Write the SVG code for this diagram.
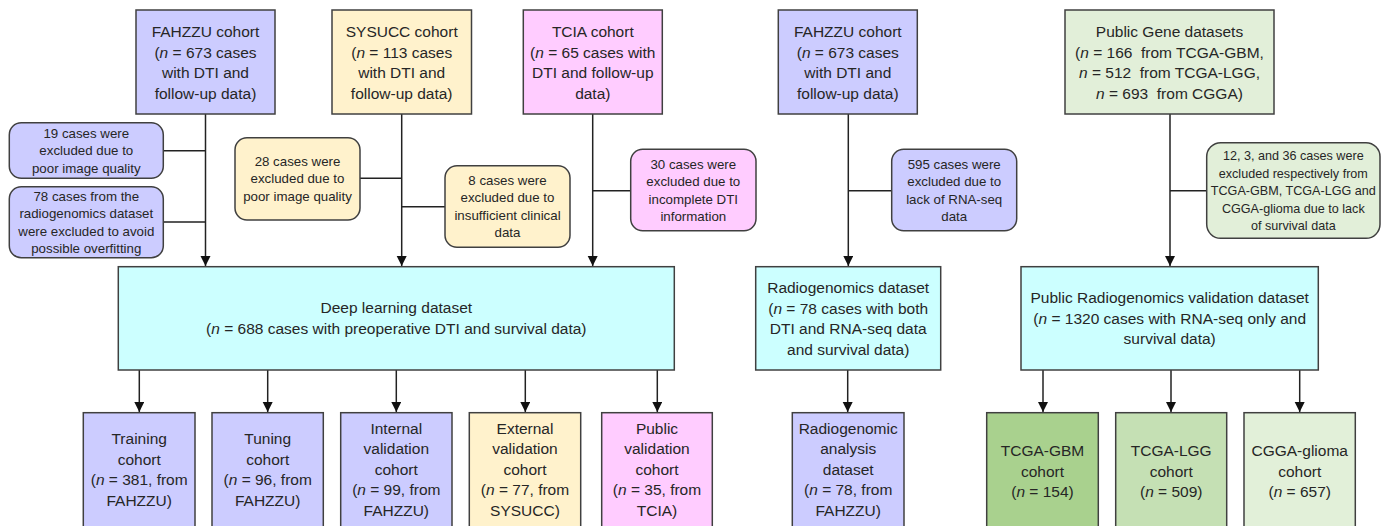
<svg xmlns="http://www.w3.org/2000/svg" width="1383" height="526" viewBox="0 0 1383 526">
<defs>
<style>
.b{stroke:#404040;stroke-width:1.5}
.pu{fill:#CCCCFF}.ye{fill:#FFF2CC}.pk{fill:#FFCCFF}.cy{fill:#CCFFFF}.gr{fill:#E2EFD9}
.g1{fill:#A9D18E}.g2{fill:#C5E0B4}.g3{fill:#E2F0D9}
text{font-family:"Liberation Sans",Arial,sans-serif;fill:#262626;text-anchor:middle}
.t{font-size:15.5px}.s{font-size:13.3px}.s2{font-size:12.6px}
.i{font-style:italic}
.pre{white-space:pre}
.c{stroke:#222;stroke-width:1.5;fill:none}
.a{marker-end:url(#ah)}
</style>
<marker id="ah" markerUnits="userSpaceOnUse" markerWidth="10" markerHeight="12" refX="10" refY="5" orient="auto">
<path d="M0,0 L10,5 L0,10 Z" fill="#111"/>
</marker>
</defs>
<rect width="1383" height="526" fill="#fff"/>

<g id="connectors">
<path class="c a" d="M205.5,114 V266"/>
<path class="c" d="M163.5,150.7 H205.5 M163.5,222 H205.5"/>
<path class="c a" d="M401.7,114 V266"/>
<path class="c" d="M360,178.3 H401.7 M401.7,206.7 H445"/>
<path class="c a" d="M592.7,114 V266"/>
<path class="c" d="M592.7,190.7 H630.7"/>
<path class="c a" d="M848.3,114 V266"/>
<path class="c" d="M848.3,190.7 H891.7"/>
<path class="c a" d="M1170,114 V266"/>
<path class="c" d="M1170,190.7 H1206.7"/>
<path class="c a" d="M139.3,370 V412"/>
<path class="c a" d="M267.7,370 V412"/>
<path class="c a" d="M396.3,370 V412"/>
<path class="c a" d="M525.3,370 V412"/>
<path class="c a" d="M657.3,370 V412"/>
<path class="c a" d="M847.7,370 V412"/>
<path class="c a" d="M1043,370 V412"/>
<path class="c a" d="M1171,370 V412"/>
<path class="c a" d="M1299.7,370 V412"/>
</g>

<g id="fahzzu1">
<rect class="b pu" x="136" y="10" width="139" height="104"/>
<text class="t" x="205.5" y="37">FAHZZU cohort</text>
<text class="t" x="205.5" y="57.5">(<tspan class="i">n</tspan> = 673 cases</text>
<text class="t" x="205.5" y="78">with DTI and</text>
<text class="t" x="205.5" y="98.5">follow-up data)</text>
</g>
<g id="sysucc">
<rect class="b ye" x="332" y="10" width="139.5" height="104"/>
<text class="t" x="401.7" y="37">SYSUCC cohort</text>
<text class="t" x="401.7" y="57.5">(<tspan class="i">n</tspan> = 113 cases</text>
<text class="t" x="401.7" y="78">with DTI and</text>
<text class="t" x="401.7" y="98.5">follow-up data)</text>
</g>
<g id="tcia">
<rect class="b pk" x="523.3" y="10" width="139" height="104"/>
<text class="t" x="592.8" y="37">TCIA cohort</text>
<text class="t" x="592.8" y="57.5">(<tspan class="i">n</tspan> = 65 cases with</text>
<text class="t" x="592.8" y="78">DTI and follow-up</text>
<text class="t" x="592.8" y="98.5">data)</text>
</g>
<g id="fahzzu2">
<rect class="b pu" x="778.3" y="10" width="139" height="104"/>
<text class="t" x="847.8" y="37">FAHZZU cohort</text>
<text class="t" x="847.8" y="57.5">(<tspan class="i">n</tspan> = 673 cases</text>
<text class="t" x="847.8" y="78">with DTI and</text>
<text class="t" x="847.8" y="98.5">follow-up data)</text>
</g>
<g id="publicgene">
<rect class="b gr" x="1065" y="10" width="209" height="104"/>
<text class="t" x="1169.5" y="37">Public Gene datasets</text>
<text class="t pre" x="1169.5" y="57.5">(<tspan class="i">n</tspan> = 166  from TCGA-GBM,</text>
<text class="t pre" x="1169.5" y="78"><tspan class="i">n</tspan> = 512  from TCGA-LGG,</text>
<text class="t pre" x="1169.5" y="98.5"><tspan class="i">n</tspan> = 693  from CGGA)</text>
</g>

<g id="excl19">
<rect class="b pu" x="9.3" y="122.7" width="154" height="55.6" rx="12"/>
<text class="s" x="86.3" y="137.5">19 cases were</text>
<text class="s" x="86.3" y="155">excluded due to</text>
<text class="s" x="86.3" y="172.5">poor image quality</text>
</g>
<g id="excl78">
<rect class="b pu" x="9.3" y="186.7" width="154" height="71" rx="12"/>
<text class="s" x="86.3" y="200.5">78 cases from the</text>
<text class="s" x="86.3" y="218">radiogenomics dataset</text>
<text class="s" x="86.3" y="235.5">were excluded to avoid</text>
<text class="s" x="86.3" y="253">possible overfitting</text>
</g>
<g id="excl28">
<rect class="b ye" x="235" y="137.7" width="125" height="82.3" rx="12"/>
<text class="s" x="297.5" y="165.5">28 cases were</text>
<text class="s" x="297.5" y="183">excluded due to</text>
<text class="s" x="297.5" y="200.5">poor image quality</text>
</g>
<g id="excl8">
<rect class="b ye" x="445" y="165.7" width="125" height="81.6" rx="12"/>
<text class="s" x="507.5" y="184.5">8 cases were</text>
<text class="s" x="507.5" y="202">excluded due to</text>
<text class="s" x="507.5" y="219.5">insufficient clinical</text>
<text class="s" x="507.5" y="237">data</text>
</g>
<g id="excl30">
<rect class="b pk" x="630.7" y="149.3" width="125.3" height="81.4" rx="12"/>
<text class="s" x="693.3" y="168.5">30 cases were</text>
<text class="s" x="693.3" y="186">excluded due to</text>
<text class="s" x="693.3" y="203.5">incomplete DTI</text>
<text class="s" x="693.3" y="221">information</text>
</g>
<g id="excl595">
<rect class="b pu" x="891.7" y="149.3" width="125" height="81.4" rx="12"/>
<text class="s" x="954.2" y="168.5">595 cases were</text>
<text class="s" x="954.2" y="186">excluded due to</text>
<text class="s" x="954.2" y="203.5">lack of RNA-seq</text>
<text class="s" x="954.2" y="221">data</text>
</g>
<g id="excl12">
<rect class="b gr" x="1206.7" y="142.7" width="173.3" height="95.6" rx="14"/>
<text class="s2" x="1293.3" y="160">12, 3, and 36 cases were</text>
<text class="s2" x="1293.3" y="177.5">excluded respectively from</text>
<text class="s2" x="1293.3" y="195">TCGA-GBM, TCGA-LGG and</text>
<text class="s2" x="1293.3" y="212.5">CGGA-glioma due to lack</text>
<text class="s2" x="1293.3" y="230">of survival data</text>
</g>

<g id="deeplearning">
<rect class="b cy" x="118.3" y="266.7" width="556" height="103.3"/>
<text class="t" x="396.3" y="313">Deep learning dataset</text>
<text class="t" x="396.3" y="334">(<tspan class="i">n</tspan> = 688 cases with preoperative DTI and survival data)</text>
</g>
<g id="radiogenomics">
<rect class="b cy" x="755.7" y="266.7" width="185" height="103.3"/>
<text class="t" x="848.2" y="293">Radiogenomics dataset</text>
<text class="t" x="848.2" y="313.5">(<tspan class="i">n</tspan> = 78 cases with both</text>
<text class="t" x="848.2" y="334">DTI and RNA-seq data</text>
<text class="t" x="848.2" y="354.5">and survival data)</text>
</g>
<g id="publicvalid">
<rect class="b cy" x="1021" y="266.7" width="297.3" height="103.3"/>
<text class="t" x="1169.7" y="303">Public Radiogenomics validation dataset</text>
<text class="t" x="1169.7" y="323.5">(<tspan class="i">n</tspan> = 1320 cases with RNA-seq only and</text>
<text class="t" x="1169.7" y="344">survival data)</text>
</g>

<g id="training">
<rect class="b pu" x="83.3" y="412.7" width="111.7" height="130"/>
<text class="t" x="139.2" y="444">Training</text>
<text class="t" x="139.2" y="464.5">cohort</text>
<text class="t" x="139.2" y="485">(<tspan class="i">n</tspan> = 381, from</text>
<text class="t" x="139.2" y="505.5">FAHZZU)</text>
</g>
<g id="tuning">
<rect class="b pu" x="212" y="412.7" width="111.3" height="130"/>
<text class="t" x="267.7" y="444">Tuning</text>
<text class="t" x="267.7" y="464.5">cohort</text>
<text class="t" x="267.7" y="485">(<tspan class="i">n</tspan> = 96, from</text>
<text class="t" x="267.7" y="505.5">FAHZZU)</text>
</g>
<g id="internal">
<rect class="b pu" x="340.7" y="412.7" width="111.3" height="130"/>
<text class="t" x="396.3" y="433.5">Internal</text>
<text class="t" x="396.3" y="454">validation</text>
<text class="t" x="396.3" y="474.5">cohort</text>
<text class="t" x="396.3" y="495">(<tspan class="i">n</tspan> = 99, from</text>
<text class="t" x="396.3" y="515.5">FAHZZU)</text>
</g>
<g id="external">
<rect class="b ye" x="469.3" y="412.7" width="111.4" height="130"/>
<text class="t" x="525" y="433.5">External</text>
<text class="t" x="525" y="454">validation</text>
<text class="t" x="525" y="474.5">cohort</text>
<text class="t" x="525" y="495">(<tspan class="i">n</tspan> = 77, from</text>
<text class="t" x="525" y="515.5">SYSUCC)</text>
</g>
<g id="publiccohort">
<rect class="b pk" x="601.7" y="412.7" width="110.6" height="130"/>
<text class="t" x="657" y="433.5">Public</text>
<text class="t" x="657" y="454">validation</text>
<text class="t" x="657" y="474.5">cohort</text>
<text class="t" x="657" y="495">(<tspan class="i">n</tspan> = 35, from</text>
<text class="t" x="657" y="515.5">TCIA)</text>
</g>
<g id="radioanalysis">
<rect class="b pu" x="792.3" y="412.7" width="111.7" height="130"/>
<text class="t" x="848.2" y="433.5">Radiogenomic</text>
<text class="t" x="848.2" y="454">analysis</text>
<text class="t" x="848.2" y="474.5">dataset</text>
<text class="t" x="848.2" y="495">(<tspan class="i">n</tspan> = 78, from</text>
<text class="t" x="848.2" y="515.5">FAHZZU)</text>
</g>
<g id="tcgagbm">
<rect class="b g1" x="986.7" y="412.7" width="111.6" height="130"/>
<text class="t" x="1042.5" y="456">TCGA-GBM</text>
<text class="t" x="1042.5" y="476.5">cohort</text>
<text class="t" x="1042.5" y="497">(<tspan class="i">n</tspan> = 154)</text>
</g>
<g id="tcgalgg">
<rect class="b g2" x="1115.7" y="412.7" width="111" height="130"/>
<text class="t" x="1171.2" y="456">TCGA-LGG</text>
<text class="t" x="1171.2" y="476.5">cohort</text>
<text class="t" x="1171.2" y="497">(<tspan class="i">n</tspan> = 509)</text>
</g>
<g id="cggaglioma">
<rect class="b g3" x="1244" y="412.7" width="111.3" height="130"/>
<text class="t" x="1299.7" y="456">CGGA-glioma</text>
<text class="t" x="1299.7" y="476.5">cohort</text>
<text class="t" x="1299.7" y="497">(<tspan class="i">n</tspan> = 657)</text>
</g>
</svg>
